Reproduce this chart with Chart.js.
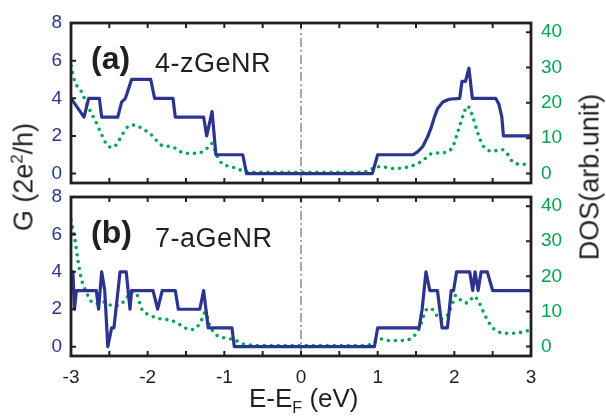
<!DOCTYPE html>
<html>
<head>
<meta charset="utf-8">
<script src="https://cdn.jsdelivr.net/npm/chart.js@4.4.1/dist/chart.umd.min.js"></script>
<style>
body { margin: 0; background: #fff; }
#wrap { position: relative; width: 606px; height: 417px; font-family: 'Liberation Sans', Arial, sans-serif; color: #231f20; }
canvas { position: absolute; left: 0; top: 0; }
.t { position: absolute; white-space: nowrap; line-height: 1; }
.rot { transform: translate(-50%, -50%) rotate(-90deg); }
sup, sub { font-size: 0.62em; line-height: 0; }
</style>
</head>
<body>
<div id="wrap">
  <canvas id="chartA" width="606" height="417"></canvas>
  <canvas id="chartB" width="606" height="417"></canvas>
  <div class="t" style="left:91px;top:42px;font-size:32px;font-weight:bold">(a)</div>
  <div class="t" style="left:155px;top:50px;font-size:27px;letter-spacing:0.5px">4-zGeNR</div>
  <div class="t" style="left:91px;top:216px;font-size:32px;font-weight:bold">(b)</div>
  <div class="t" style="left:155px;top:225px;font-size:27px;letter-spacing:0.5px">7-aGeNR</div>
  <div class="t rot" style="left:24px;top:177px;font-size:27px">G (2e<sup>2</sup>/h)</div>
  <div class="t rot" style="left:590px;top:177px;font-size:27px">DOS(arb.unit)</div>
  <div class="t" style="left:249px;top:385px;font-size:26px">E-E<sub>F</sub> (eV)</div>
</div>
<script>
// tick positions
var eTicks = [-3, -2.5, -2, -1.5, -1, -0.5, 0, 0.5, 1, 1.5, 2, 2.5, 3];
var gTicks = [0, 1, 2, 3, 4, 5, 6, 7, 8];
var dosTicks = [0, 5, 10, 15, 20, 25, 30, 35, 40];

// (a) 4-zGeNR : [E, G] and [E, DOS]
var zgG = [[-3,4],[-2.83,3],[-2.77,4],[-2.63,4],[-2.60,3],[-2.39,3],[-2.34,3.8],[-2.29,4],[-2.21,5],
  [-1.96,5],[-1.91,4],[-1.67,4],[-1.64,3],[-1.27,3],[-1.23,2],[-1.16,3.3],[-1.11,1],[-0.76,1],[-0.71,0],
  [0.93,0],[1.0,1],[1.46,1],[1.52,1.15],[1.59,1.45],[1.65,1.94],[1.70,2.47],[1.74,3.0],[1.78,3.44],
  [1.85,3.8],[1.93,3.95],[2.07,4],[2.10,4.9],[2.145,4.9],[2.19,5.6],[2.235,4],[2.54,4],[2.58,3.7],
  [2.62,3],[2.64,2],[3,2]];
var zgDos = [[-3,30.5],[-2.95,26],[-2.865,23.2],[-2.78,19],[-2.69,15.2],[-2.60,11],[-2.52,7.8],[-2.45,7.4],
  [-2.385,9],[-2.32,11.4],[-2.255,13.3],[-2.167,13.7],[-2.08,12.8],[-1.95,10.9],[-1.82,8],[-1.69,7.6],
  [-1.51,5.7],[-1.38,5.7],[-1.25,6.6],[-1.165,8.5],[-1.10,5.2],[-1.03,2.8],[-0.95,2.1],[-0.85,1.5],
  [-0.72,0.5],[-0.5,0.3],[0,0.3],[0.5,0.3],[0.76,0.3],[0.89,0.8],[0.98,1.9],[1.04,1.9],[1.2,1.4],
  [1.41,1.9],[1.565,3.3],[1.72,5.7],[1.87,5.9],[1.98,7.6],[2.04,11.4],[2.11,16.1],[2.17,19.1],
  [2.24,16.1],[2.30,11.8],[2.37,8],[2.50,6.3],[2.61,6.8],[2.67,6.2],[2.76,3.3],[2.89,2.6],[3,2.6]];

// (b) 7-aGeNR
var agG = [[-3,4],[-2.975,4],[-2.955,2],[-2.93,3],[-2.67,3],[-2.64,2],[-2.60,4],[-2.56,3],[-2.52,0],
  [-2.47,1],[-2.44,1],[-2.36,4],[-2.28,4],[-2.23,2],[-2.21,3],[-1.93,3],[-1.87,2],[-1.81,3],[-1.64,3],
  [-1.60,2],[-1.32,2],[-1.27,3],[-1.21,1],[-0.90,1],[-0.87,0],[0.957,0],[1.0,1],[1.54,1],[1.58,2],
  [1.63,4],[1.68,3],[1.78,3],[1.84,1],[1.91,1],[1.96,3],[1.99,3],[2.03,4],[2.2,4],[2.24,3],[2.27,4],
  [2.31,3],[2.35,4],[2.43,4],[2.5,3],[3,3]];
var agDos = [[-3,36],[-2.94,29.3],[-2.91,24.6],[-2.865,19.3],[-2.80,15.5],[-2.73,12.7],[-2.65,12.2],
  [-2.56,12.7],[-2.47,11.7],[-2.385,11.7],[-2.30,13.1],[-2.21,15.5],[-2.145,15],[-2.08,10.8],
  [-1.97,8.9],[-1.84,7.9],[-1.69,7.4],[-1.56,6],[-1.45,4.8],[-1.36,5.5],[-1.30,7.4],[-1.25,9.8],
  [-1.19,6],[-1.12,3.6],[-0.99,2.4],[-0.86,1.9],[-0.77,0.8],[-0.5,0.3],[0,0.3],[0.5,0.3],[0.76,0.3],
  [0.89,0.5],[0.957,1.2],[1.02,2.2],[1.15,1.7],[1.33,1.7],[1.46,2.7],[1.54,5],[1.61,9.3],[1.65,10.8],
  [1.74,10.1],[1.80,7.9],[1.89,8.4],[1.96,11.2],[2.02,14.6],[2.09,13.1],[2.17,12.4],[2.26,14.3],
  [2.33,12.2],[2.39,9.3],[2.46,6.5],[2.54,4.6],[2.67,3.8],[2.80,3.8],[2.93,4.4],[3,4.6]];

var fermiLine = [[0,-0.5],[0,8]];

var blue = '#2b3590';
var green = '#00a651';
var ink = '#231f20';

Chart.defaults.font.family = "'Liberation Sans', Arial, sans-serif";
Chart.defaults.font.size = 19;

function pts(arr) {
  return arr.map(function (p) { return { x: p[0], y: p[1] }; });
}
function setTicks(list) {
  return function (scale) { scale.ticks = list.map(function (v) { return { value: v }; }); };
}

// frame with inward ticks on all four sides
var framePlugin = {
  id: 'frame',
  afterDatasetsDraw: function (chart) {
    var ctx = chart.ctx, a = chart.chartArea, s = chart.scales;
    ctx.save();
    ctx.strokeStyle = ink;
    ctx.lineWidth = 2;
    ctx.beginPath();
    s.x.ticks.forEach(function (t) {
      var px = s.x.getPixelForValue(t.value);
      ctx.moveTo(px, a.top); ctx.lineTo(px, a.top + 5);
      ctx.moveTo(px, a.bottom); ctx.lineTo(px, a.bottom - 5);
    });
    s.yG.ticks.forEach(function (t) {
      var py = s.yG.getPixelForValue(t.value);
      ctx.moveTo(a.left, py); ctx.lineTo(a.left + 5, py);
    });
    s.yD.ticks.forEach(function (t) {
      var py = s.yD.getPixelForValue(t.value);
      ctx.moveTo(a.right, py); ctx.lineTo(a.right - 5, py);
    });
    ctx.stroke();
    ctx.lineWidth = 2.8;
    ctx.strokeRect(a.left, a.top, a.right - a.left, a.bottom - a.top);
    ctx.restore();
  }
};

function makePanel(id, gData, dosData, top, bottom, showX) {
  var ctx = document.getElementById(id).getContext('2d');
  return new Chart(ctx, {
    type: 'line',
    data: {
      datasets: [
        {
          data: pts(gData), yAxisID: 'yG',
          borderColor: blue, borderWidth: 3.2, tension: 0,
          borderJoinStyle: 'round', pointRadius: 0
        },
        {
          data: pts(dosData), yAxisID: 'yD',
          borderColor: green, borderWidth: 3.6, borderDash: [0, 7], borderCapStyle: 'round',
          cubicInterpolationMode: 'monotone', pointRadius: 0
        },
        {
          data: pts(fermiLine), yAxisID: 'yG',
          borderColor: '#8c8c8c', borderWidth: 1.5, borderDash: [9, 3, 2, 3], pointRadius: 0
        }
      ]
    },
    options: {
      responsive: false,
      animation: false,
      devicePixelRatio: 1,
      layout: { padding: { top: top, bottom: 0, left: 0, right: 0 } },
      plugins: { legend: { display: false }, tooltip: { enabled: false } },
      scales: {
        x: {
          type: 'linear', min: -3, max: 3,
          afterBuildTicks: setTicks(eTicks),
          afterFit: function (s) { s.height = 417 - bottom; },
          grid: { display: false, drawTicks: false },
          border: { display: false },
          ticks: {
            display: showX, color: ink, padding: 10,
            callback: function (v) { return Number.isInteger(v) ? String(v) : ''; }
          }
        },
        yG: {
          type: 'linear', position: 'left', min: -0.5, max: 8,
          afterBuildTicks: setTicks(gTicks),
          afterFit: function (s) { s.width = 71; },
          grid: { display: false, drawTicks: false },
          border: { display: false },
          ticks: {
            color: blue, padding: 9,
            callback: function (v) { return v % 2 === 0 ? String(v) : ''; }
          }
        },
        yD: {
          type: 'linear', position: 'right', min: -2.7, max: 42.6,
          afterBuildTicks: setTicks(dosTicks),
          afterFit: function (s) { s.width = 75; },
          grid: { display: false, drawTicks: false },
          border: { display: false },
          ticks: {
            color: green, padding: 10,
            callback: function (v) { return v % 10 === 0 ? String(v) : ''; }
          }
        }
      }
    },
    plugins: [framePlugin]
  });
}

makePanel('chartA', zgG, zgDos, 23, 183, false);
makePanel('chartB', agG, agDos, 197, 356, true);
</script>
</body>
</html>
